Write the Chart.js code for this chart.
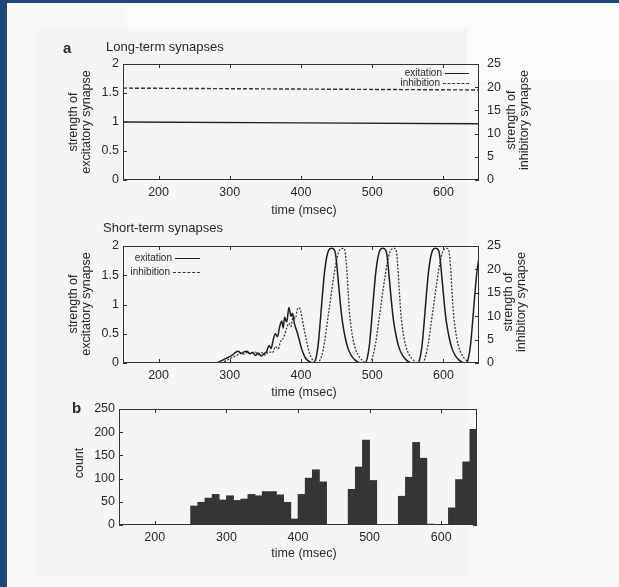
<!DOCTYPE html>
<html><head><meta charset="utf-8">
<script src="https://cdn.jsdelivr.net/npm/chart.js@4.4.1/dist/chart.umd.min.js"></script>
<style>
html,body{margin:0;padding:0;}
body{width:619px;height:587px;position:relative;overflow:hidden;background:#f8f8f8;font-family:"Liberation Sans",Arial,sans-serif;color:#2a2a2a;}
.bl{position:absolute;left:0;top:0;width:7px;height:587px;background:#1e4877;}
.bt{position:absolute;left:0;top:0;width:619px;height:3px;background:#1e4877;}
.fig{position:absolute;left:35px;top:28px;width:432px;height:548px;background:#f5f5f5;}
.tr{position:absolute;left:125px;top:5px;width:494px;height:76px;background:#fbfbfb;}
canvas{position:absolute;left:0;}
.t{position:absolute;white-space:nowrap;line-height:1;}
.rot{position:absolute;transform:translate(-50%,-50%) rotate(-90deg);text-align:center;white-space:nowrap;font-size:12.5px;line-height:12.5px;}
.ln{position:absolute;height:0;}
</style></head>
<body>
<div class="bl"></div><div class="bt"></div><div class="tr"></div><div class="fig"></div>
<canvas id="c1" width="619" height="200" style="top:0px"></canvas>
<canvas id="c2" width="619" height="185" style="top:200px"></canvas>
<canvas id="c3" width="619" height="165" style="top:385px"></canvas>

<div class="t" style="left:63px;top:40px;font-size:15px;font-weight:bold;">a</div>
<div class="t" style="left:106px;top:40px;font-size:13px;">Long-term synapses</div>
<div class="t" style="left:103px;top:221px;font-size:13px;">Short-term synapses</div>
<div class="t" style="left:72px;top:400px;font-size:15px;font-weight:bold;">b</div>

<div class="rot" style="left:79px;top:122px;">strength of<br>excitatory synapse</div>
<div class="rot" style="left:517px;top:120px;">strength of<br>inhibitory synapse</div>
<div class="rot" style="left:79px;top:304px;">strength of<br>excitatory synapse</div>
<div class="rot" style="left:514px;top:302px;">strength of<br>inhibitory synapse</div>
<div class="rot" style="left:79px;top:463px;">count</div>

<div class="t" style="left:304px;top:204px;font-size:12.5px;transform:translateX(-50%);">time (msec)</div>
<div class="t" style="left:304px;top:386px;font-size:12.5px;transform:translateX(-50%);">time (msec)</div>
<div class="t" style="left:304px;top:547px;font-size:12.5px;transform:translateX(-50%);">time (msec)</div>

<div class="t" style="right:177px;top:68px;font-size:10px;">exitation</div>
<div class="ln" style="left:445px;top:73px;width:24px;border-top:1.5px solid #222;"></div>
<div class="t" style="right:179px;top:78px;font-size:10px;">inhibition</div>
<div class="ln" style="left:443px;top:83px;width:26px;border-top:1.3px dashed #333;"></div>

<div class="t" style="right:447px;top:253px;font-size:10px;">exitation</div>
<div class="ln" style="left:175px;top:258px;width:25px;border-top:1.5px solid #222;"></div>
<div class="t" style="right:449px;top:267px;font-size:10px;">inhibition</div>
<div class="ln" style="left:173px;top:272px;width:27px;border-top:1.3px dashed #333;"></div>

<script>
// ---------- data ----------
const xTicks = [200, 300, 400, 500, 600];
const excTicks = [0, 0.5, 1, 1.5, 2];
const inhTicks = [0, 5, 10, 15, 20, 25];
const countTicks = [0, 50, 100, 150, 200, 250];

// Long-term synapses
const ltTime = [150, 400, 650];
const ltExc = [1.0, 0.985, 0.97];
const ltInh = [19.8, 19.6, 19.4];

// Short-term synapses: excitation (left axis)
const stExcT = [150,280,285,290,295,300,304,308,312,316,320,324,328,332,336,340,344,348,352,355,358,361,364,367,370,373,375,377,380,383,386,388,391,394,397,400,403,406,410,414,417,
 421,424,427,430,433,436,439,443,447,449,452,455,458,462,466,471,476,481,486,
 490,493,496,499,502,505,508,511,515,519,521,524,527,530,534,538,543,548,553,558,
 564,567,570,573,576,579,582,585,589,593,595,598,601,604,608,612,617,622,627,
 632,635,638,641,644,647,650];
const stExcV = [0,0,0.02,0.05,0.08,0.11,0.14,0.18,0.2,0.16,0.19,0.2,0.16,0.18,0.13,0.17,0.12,0.16,0.2,0.3,0.25,0.4,0.5,0.45,0.62,0.72,0.6,0.78,0.7,0.95,0.8,0.85,0.66,0.55,0.42,0.28,0.17,0.09,0.04,0.01,0,
 0.08,0.3,0.7,1.15,1.55,1.8,1.93,1.96,1.93,1.82,1.45,1.05,0.72,0.44,0.25,0.12,0.05,0.01,0,
 0,0.08,0.3,0.7,1.15,1.55,1.8,1.93,1.96,1.93,1.82,1.45,1.05,0.72,0.44,0.25,0.12,0.05,0.01,0,
 0,0.08,0.3,0.7,1.15,1.55,1.8,1.93,1.96,1.93,1.82,1.45,1.05,0.72,0.44,0.25,0.12,0.05,0.01,
 0,0.08,0.3,0.7,1.15,1.55,1.8];

// Short-term synapses: inhibition (right axis)
const stInhT = [150,288,292,296,300,305,310,315,320,325,330,335,340,345,350,355,360,364,368,371,374,377,380,383,386,389,392,395,397,399,401,404,408,411,414,418,422,
 429,433,437,441,445,449,453,456,460,462,464,466,468,471,475,480,486,492,
 497,501,505,509,513,517,521,525,528,532,534,536,538,540,543,547,552,558,564,
 571,575,579,583,587,591,595,599,602,606,608,610,612,614,617,621,626,632,638,
 650];
const stInhV = [0,0,0.3,0.6,0.9,1.3,1.6,2.2,1.9,2.3,2.0,2.4,1.8,2.2,1.7,2.4,2.2,3.5,3.0,4.5,5.0,6.0,7.5,8.5,7.8,10.2,9.5,11.5,11.8,11.5,10.0,7.5,4.6,2.6,1.3,0.3,0,
 1.5,4.4,8.75,13.1,17.5,21.25,23.75,24.4,24.5,23.75,20.6,15.6,11,6.9,3.75,1.75,0.6,0,
 0,1.5,4.4,8.75,13.1,17.5,21.25,23.75,24.4,24.5,23.75,20.6,15.6,11,6.9,3.75,1.75,0.6,0,
 0,1.5,4.4,8.75,13.1,17.5,21.25,23.75,24.4,24.5,23.75,20.6,15.6,11,6.9,3.75,1.75,0.6,0,
 0];

// Histogram (bin left edges, 10 ms bins)
const histBins = [250,260,270,280,290,300,310,320,330,340,350,360,370,380,390,400,410,420,430,440,450,460,470,480,490,500,510,520,530,540,550,560,570,580,590,600,610,620,630,640];
const histCounts = [41,49,58,66,54,63,53,56,66,63,72,72,65,49,13,66,101,119,93,0,0,0,77,125,183,96,0,0,0,62,103,178,144,2,0,0,37,98,136,206];
const binWidth = 10;

// ---------- chart helpers ----------
Chart.defaults.font.family = '"Liberation Sans", Arial, sans-serif';
Chart.defaults.font.size = 12.5;
Chart.defaults.color = '#2a2a2a';

const zip = (xs, ys) => xs.map((x, i) => ({x: x, y: ys[i]}));

const framePlugin = {
  id: 'frame',
  afterDatasetsDraw(chart, args, opts) {
    const {ctx, chartArea: a, scales} = chart;
    ctx.save();
    ctx.strokeStyle = '#333';
    ctx.lineWidth = 1;
    ctx.strokeRect(Math.round(a.left) + 0.5, Math.round(a.top) + 0.5, Math.round(a.width) - 1, Math.round(a.height) - 1);
    const L = 4;
    ctx.beginPath();
    scales.x.ticks.forEach(t => {
      const px = Math.round(scales.x.getPixelForValue(t.value)) + 0.5;
      ctx.moveTo(px, a.bottom); ctx.lineTo(px, a.bottom - L);
      ctx.moveTo(px, a.top); ctx.lineTo(px, a.top + L);
    });
    scales.y.ticks.forEach(t => {
      const py = Math.round(scales.y.getPixelForValue(t.value)) + 0.5;
      ctx.moveTo(a.left, py); ctx.lineTo(a.left + L, py);
      if (opts.mirrorY) { ctx.moveTo(a.right, py); ctx.lineTo(a.right - L, py); }
    });
    if (scales.y2) {
      scales.y2.ticks.forEach(t => {
        const py = Math.round(scales.y2.getPixelForValue(t.value)) + 0.5;
        ctx.moveTo(a.right, py); ctx.lineTo(a.right - L, py);
      });
    }
    ctx.stroke();
    ctx.restore();
  }
};

function xScale(h) {
  return {
    type: 'linear', min: 150, max: 650, offset: false,
    afterBuildTicks: s => { s.ticks = xTicks.map(v => ({value: v})); },
    afterFit: s => { s.height = h; },
    grid: {display: false, drawTicks: false}, border: {display: false},
    ticks: {padding: 5, maxRotation: 0, autoSkip: false, callback: v => String(v)}
  };
}
function yScale(min, max, ticks, w, pos) {
  return {
    type: 'linear', position: pos, min: min, max: max,
    afterBuildTicks: s => { s.ticks = ticks.map(v => ({value: v})); },
    afterFit: s => { s.width = w; },
    grid: {display: false, drawTicks: false}, border: {display: false},
    ticks: {padding: pos === 'left' ? 4 : 8, callback: v => String(v)}
  };
}
const commonPlugins = {legend: {display: false}, tooltip: {enabled: false}};

// Panel a: long-term
new Chart(document.getElementById('c1'), {
  type: 'line',
  data: {datasets: [
    {data: zip(ltTime, ltExc), yAxisID: 'y', borderColor: '#222', borderWidth: 1.4, pointRadius: 0},
    {data: zip(ltTime, ltInh), yAxisID: 'y2', borderColor: '#333', borderWidth: 1.4, borderDash: [4, 2], pointRadius: 0}
  ]},
  options: {
    responsive: false, animation: false, devicePixelRatio: 1,
    layout: {padding: {top: 64, left: 0, right: 0, bottom: 0}},
    scales: {x: xScale(20), y: yScale(0, 2, excTicks, 123, 'left'), y2: yScale(0, 25, inhTicks, 140, 'right')},
    plugins: Object.assign({frame: {}}, commonPlugins)
  },
  plugins: [framePlugin]
});

// Panel a: short-term
new Chart(document.getElementById('c2'), {
  type: 'line',
  data: {datasets: [
    {data: zip(stExcT, stExcV), yAxisID: 'y', borderColor: '#1e1e1e', borderWidth: 1.5, pointRadius: 0, cubicInterpolationMode: 'monotone'},
    {data: zip(stInhT, stInhV), yAxisID: 'y2', borderColor: '#3a3a3a', borderWidth: 1.3, borderDash: [2, 1.5], pointRadius: 0, cubicInterpolationMode: 'monotone'}
  ]},
  options: {
    responsive: false, animation: false, devicePixelRatio: 1,
    layout: {padding: {top: 46, left: 0, right: 0, bottom: 0}},
    scales: {x: xScale(22), y: yScale(0, 2, excTicks, 123, 'left'), y2: yScale(0, 25, inhTicks, 140, 'right')},
    plugins: Object.assign({frame: {}}, commonPlugins)
  },
  plugins: [framePlugin]
});

// Panel b: histogram
new Chart(document.getElementById('c3'), {
  type: 'bar',
  data: {datasets: [
    {data: zip(histBins.map(b => b + binWidth / 2), histCounts), backgroundColor: '#353535', borderWidth: 0,
     barPercentage: 1.0, categoryPercentage: 1.0, grouped: false}
  ]},
  options: {
    responsive: false, animation: false, devicePixelRatio: 1,
    layout: {padding: {top: 24, left: 0, right: 142, bottom: 0}},
    scales: {x: xScale(25), y: yScale(0, 250, countTicks, 119, 'left')},
    plugins: Object.assign({frame: {mirrorY: true}}, commonPlugins)
  },
  plugins: [framePlugin]
});
</script>
</body></html>
